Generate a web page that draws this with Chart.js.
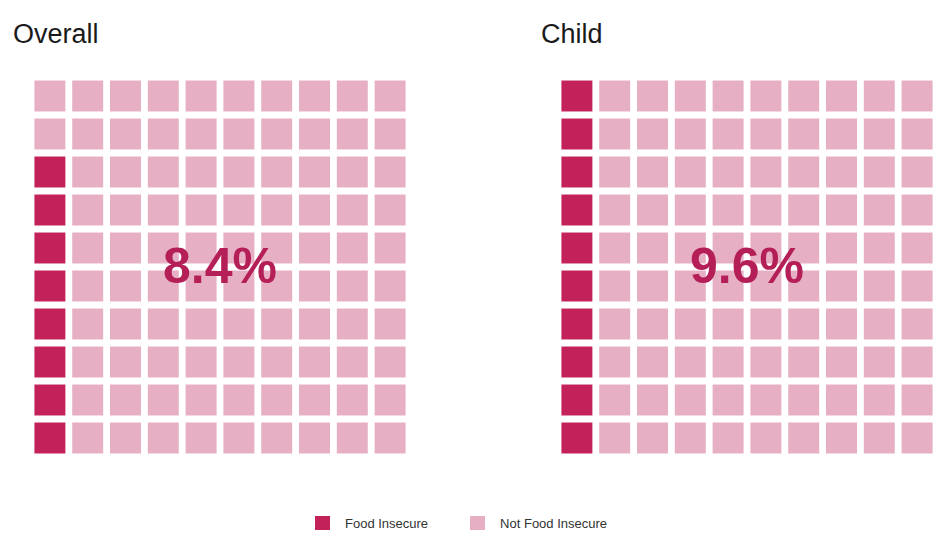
<!DOCTYPE html>
<html>
<head>
<meta charset="utf-8">
<script src="https://cdn.jsdelivr.net/npm/chart.js@4.4.1/dist/chart.umd.min.js"></script>
<style>
  body { margin: 0; background: #fff; font-family: "Liberation Sans", Arial, sans-serif; }
  #wrap { position: relative; width: 940px; height: 541px; overflow: hidden; }
  .title { position: absolute; top: 19px; font-size: 27px; color: #1a1a1a; }
  .box { position: absolute; top: 77px; width: 378px; height: 380px; }
  #legend { position: absolute; top: 516px; left: 315px; font-size: 13px; color: #333; }
  #legend span.sw { display: inline-block; width: 15px; height: 14px; vertical-align: -2px; margin-right: 15px; }
  #legend span.item { margin-right: 42px; }
</style>
</head>
<body>
<div id="wrap">
  <div class="title" style="left:13px">Overall</div>
  <div class="title" style="left:541px">Child</div>
  <div class="box" style="left:31px"><canvas id="overall"></canvas></div>
  <div class="box" style="left:558px"><canvas id="child"></canvas></div>
  <div id="legend"></div>
</div>
<script>
  const groups = ["Overall", "Child"];
  const percents = [8.4, 9.6];
  const categories = ["Food Insecure", "Not Food Insecure"];
  const colors = ["#c2215a", "#e6afc3"];
  const gridSize = 10;

  // one point per cell, filled column by column from the bottom
  function waffleData(pct) {
    const filled = Math.round(pct);
    const pts = [], cols = [];
    for (let c = 0; c < gridSize; c++) {
      for (let r = 0; r < gridSize; r++) {
        pts.push({ x: c, y: r });
        cols.push(c * gridSize + r < filled ? colors[0] : colors[1]);
      }
    }
    return { pts, cols };
  }

  // big percentage in the middle of the grid
  const centerLabel = {
    id: "centerLabel",
    afterDatasetsDraw(chart) {
      const a = chart.chartArea;
      const ctx = chart.ctx;
      ctx.save();
      ctx.font = "bold 50px 'Liberation Sans', Arial, sans-serif";
      ctx.fillStyle = "#b51f57";
      ctx.textAlign = "center";
      ctx.textBaseline = "middle";
      ctx.fillText(chart.options.plugins.centerLabel.text, (a.left + a.right) / 2, (a.top + a.bottom) / 2 + 2);
      ctx.restore();
    }
  };

  function makeWaffle(id, pct) {
    const d = waffleData(pct);
    new Chart(id, {
      type: "scatter",
      data: {
        datasets: [{
          data: d.pts,
          pointStyle: "rect",
          pointRadius: 21.9,
          pointHoverRadius: 21.9,
          pointBorderWidth: 0,
          backgroundColor: d.cols,
          clip: false
        }]
      },
      options: {
        responsive: true,
        maintainAspectRatio: false,
        animation: false,
        events: [],
        layout: { padding: 0, autoPadding: false },
        scales: {
          x: { display: false, min: -0.5, max: gridSize - 0.5 },
          y: { display: false, min: -0.5, max: gridSize - 0.5 }
        },
        plugins: {
          legend: { display: false },
          tooltip: { enabled: false },
          centerLabel: { text: pct.toFixed(1) + "%" }
        }
      },
      plugins: [centerLabel]
    });
  }

  makeWaffle("overall", percents[0]);
  makeWaffle("child", percents[1]);

  let legendHTML = "";
  categories.forEach((c, i) => {
    legendHTML += `<span class="item"><span class="sw" style="background:${colors[i]}"></span>${c}</span>`;
  });
  document.querySelector("#legend").innerHTML = legendHTML;
</script>
</body>
</html>
